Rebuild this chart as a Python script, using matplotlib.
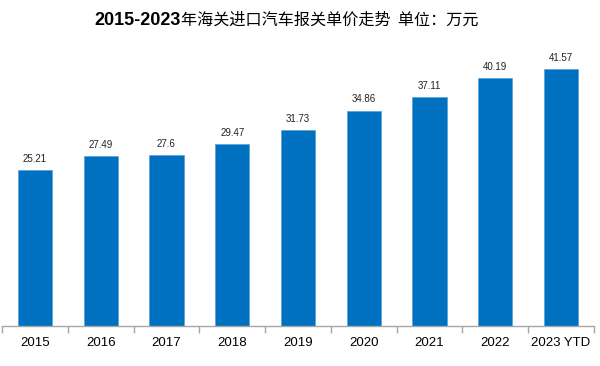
import matplotlib.pyplot as plt
import numpy as np

plt.rcParams['font.family'] = ['Liberation Sans', 'Noto Sans CJK SC', 'DejaVu Sans']

years = ['2015', '2016', '2017', '2018', '2019', '2020', '2021', '2022', '2023 YTD']
prices = [25.21, 27.49, 27.6, 29.47, 31.73, 34.86, 37.11, 40.19, 41.57]
value_labels = ['25.21', '27.49', '27.6', '29.47', '31.73', '34.86', '37.11', '40.19', '41.57']

fig = plt.figure(figsize=(6, 3.66), dpi=100)
ax = fig.add_axes([2 / 600, 40 / 366, 592 / 600, 278 / 366])

x = np.arange(len(years))
bars = ax.bar(x, prices, width=0.52, color='#0070C0', edgecolor='#5a9fd8', linewidth=0.5)
for b, lab in zip(bars, value_labels):
    ax.text(b.get_x() + b.get_width() / 2, b.get_height() + 1.0, lab,
            ha='center', va='bottom', fontsize=7, color='#222222')

ax.set_xlim(-0.5, len(years) - 0.5)
ax.set_ylim(0, 45)
ax.set_yticks([])
for s in ['top', 'right', 'left']:
    ax.spines[s].set_visible(False)
ax.spines['bottom'].set_color('#a6a6a6')
ax.spines['bottom'].set_linewidth(1)

# boundary ticks between categories, labels at centres
ax.set_xticks(np.arange(-0.5, len(years)), minor=True)
ax.tick_params(axis='x', which='minor', length=5, color='#a6a6a6', width=1)
ax.set_xticks(x)
ax.set_xticklabels(years, fontsize=9.5)
ax.tick_params(axis='x', which='major', length=0, pad=8)

# title: bold digits, regular Chinese
fig.text(181 / 600, 0.945, '2015-2023', ha='right', va='center',
         fontsize=13, fontweight='bold', family=['Liberation Sans'])
fig.text(181 / 600, 0.945, '年海关进口汽车报关单价走势  单位：万元', ha='left', va='center',
         fontsize=11.6, family=['Noto Sans CJK SC'])

fig.savefig('out.png', dpi=100)
